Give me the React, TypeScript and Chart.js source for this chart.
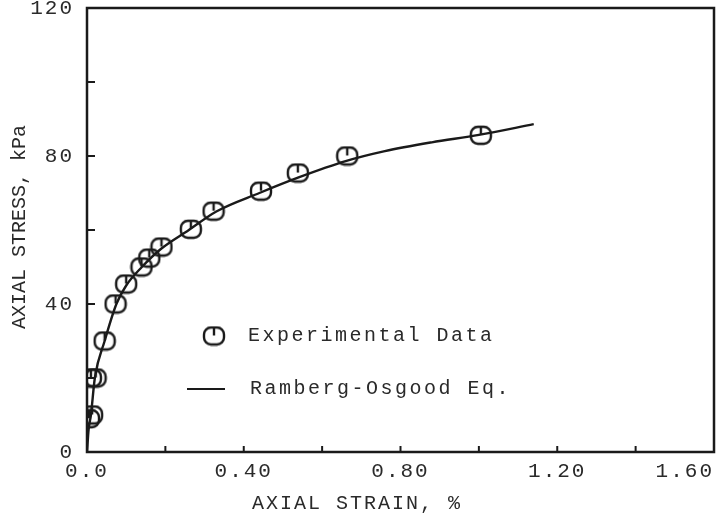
import React, { useEffect, useRef } from 'react';
import { Chart, registerables } from 'chart.js';

Chart.register(...registerables);

// Experimental data (axial strain %, axial stress kPa)
const expStrain = [0.005, 0.013, 0.01, 0.022, 0.045, 0.073, 0.1, 0.139, 0.159, 0.19, 0.265, 0.323, 0.444, 0.538, 0.664, 1.005];
const expStress = [9, 10, 20, 20, 30, 40, 45.4, 50, 52.4, 55.4, 60.2, 65.1, 70.5, 75.4, 80, 85.6];

// Ramberg-Osgood curve
const curveStrain = [0, 0.004, 0.01, 0.02, 0.045, 0.075, 0.1, 0.14, 0.19, 0.26, 0.33, 0.44, 0.54, 0.66, 0.76, 0.88, 1.0, 1.14];
const curveStress = [0, 6, 10, 20, 30, 40, 45, 50, 55, 60, 65, 70, 74.2, 78.6, 81.3, 83.7, 85.7, 88.6];

const xTickValues = [0, 0.4, 0.8, 1.2, 1.6];
const xTickLabels = ['0.0', '0.40', '0.80', '1.20', '1.60'];
const xMinorTicks = [0.2, 0.4, 0.6, 0.8, 1.0, 1.2, 1.4];
const yTickValues = [0, 40, 80, 120];
const yTickLabels = ['0', '40', '80', '120'];
const yMinorTicks = [20, 40, 60, 80, 100];

const xTitle = 'AXIAL STRAIN, %';
const yTitle = 'AXIAL STRESS, kPa';
const legendLabels = ['Experimental Data', 'Ramberg-Osgood Eq.'];

const INK = '#1a1a1a';
const TEXT = '#2a2a2a';
const FONT = "'Liberation Mono', 'DejaVu Sans Mono', monospace";

function makeMarker(): HTMLCanvasElement {
  const c = document.createElement('canvas');
  c.width = 24;
  c.height = 21;
  const g = c.getContext('2d')!;
  g.strokeStyle = INK;
  g.lineWidth = 2.4;
  g.beginPath();
  (g as any).roundRect(2, 2, 20, 17, 7);
  g.stroke();
  g.beginPath();
  g.moveTo(12, 2);
  g.lineTo(12, 10);
  g.stroke();
  return c;
}

export default function App() {
  const ref = useRef<HTMLCanvasElement>(null);

  useEffect(() => {
    const marker = makeMarker();

    const decor = {
      id: 'decor',
      beforeLayout(chart: any) {
        chart.ctx.letterSpacing = '2px';
      },
      beforeDraw(chart: any) {
        const ctx = chart.ctx;
        ctx.save();
        ctx.fillStyle = '#ffffff';
        ctx.fillRect(0, 0, chart.width, chart.height);
        ctx.restore();
        ctx.letterSpacing = '2px';
      },
      afterDraw(chart: any) {
        const { ctx, chartArea } = chart;
        const { left, right, top, bottom } = chartArea;
        const xs = chart.scales.x;
        const ys = chart.scales.y;
        ctx.save();
        ctx.strokeStyle = INK;
        ctx.lineWidth = 2.5;
        ctx.strokeRect(left, top, right - left, bottom - top);

        ctx.lineWidth = 2;
        xMinorTicks.forEach((v) => {
          const px = xs.getPixelForValue(v);
          ctx.beginPath();
          ctx.moveTo(px, bottom);
          ctx.lineTo(px, bottom - 6);
          ctx.stroke();
        });
        yMinorTicks.forEach((v) => {
          const py = ys.getPixelForValue(v);
          ctx.beginPath();
          ctx.moveTo(left, py);
          ctx.lineTo(left + 8, py);
          ctx.stroke();
        });

        // legend
        ctx.fillStyle = TEXT;
        ctx.font = `20px ${FONT}`;
        ctx.letterSpacing = '2.5px';
        ctx.textBaseline = 'middle';
        ctx.textAlign = 'left';
        const lx = left + 127;
        const ly1 = top + 328;
        const ly2 = top + 381;
        ctx.drawImage(marker, lx - marker.width / 2, ly1 - marker.height / 2);
        ctx.fillText(legendLabels[0], left + 161, ly1);
        ctx.lineWidth = 2;
        ctx.beginPath();
        ctx.moveTo(left + 100, ly2);
        ctx.lineTo(left + 138, ly2);
        ctx.stroke();
        ctx.fillText(legendLabels[1], left + 163, ly2);

        // axis titles
        ctx.textAlign = 'center';
        ctx.letterSpacing = '2px';
        ctx.fillText(xTitle, left + 270, bottom + 52);
        ctx.letterSpacing = '0px';
        ctx.save();
        ctx.translate(20, top + 219);
        ctx.rotate(-Math.PI / 2);
        ctx.fillText(yTitle, 0, 0);
        ctx.restore();
        ctx.restore();
      },
    };

    const chart = new Chart(ref.current!, {
      type: 'scatter',
      data: {
        datasets: [
          {
            label: legendLabels[1],
            data: curveStrain.map((x, i) => ({ x, y: curveStress[i] })),
            showLine: true,
            borderColor: INK,
            borderWidth: 2.4,
            pointRadius: 0,
            cubicInterpolationMode: 'monotone',
            order: 2,
          },
          {
            label: legendLabels[0],
            data: expStrain.map((x, i) => ({ x, y: expStress[i] })),
            showLine: false,
            pointStyle: marker,
            pointRadius: 10,
            borderColor: INK,
            order: 1,
          },
        ],
      },
      plugins: [decor],
      options: {
        animation: false,
        responsive: false,
        devicePixelRatio: 1,
        layout: { autoPadding: false, padding: { top: 8, right: 2, left: 0, bottom: 0 } },
        plugins: { legend: { display: false }, tooltip: { enabled: false } },
        scales: {
          x: {
            type: 'linear',
            min: 0,
            max: 1.6,
            grid: { display: false, drawTicks: false },
            border: { display: false },
            afterBuildTicks: (s: any) => {
              s.ticks = xTickValues.map((v) => ({ value: v }));
            },
            afterFit: (s: any) => {
              s.height = 77;
              s.paddingLeft = 0;
              s.paddingRight = 0;
            },
            ticks: {
              autoSkip: false,
              maxRotation: 0,
              padding: 7,
              color: TEXT,
              font: { family: FONT, size: 21 },
              callback: (v: any) => {
                const i = xTickValues.findIndex((t) => Math.abs(t - Number(v)) < 1e-6);
                if (i < 0) return '';
                // keep the last label inside the canvas, as in the original figure
                return i === xTickValues.length - 1 ? xTickLabels[i] + '    ' : xTickLabels[i];
              },
            },
          },
          y: {
            type: 'linear',
            min: 0,
            max: 120,
            grid: { display: false, drawTicks: false },
            border: { display: false },
            afterBuildTicks: (s: any) => {
              s.ticks = yTickValues.map((v) => ({ value: v }));
            },
            afterFit: (s: any) => {
              s.width = 87;
              s.paddingTop = 0;
              s.paddingBottom = 0;
            },
            ticks: {
              autoSkip: false,
              padding: 13,
              color: TEXT,
              font: { family: FONT, size: 21 },
              callback: (v: any) => {
                const i = yTickValues.findIndex((t) => Math.abs(t - Number(v)) < 1e-6);
                return i >= 0 ? yTickLabels[i] : '';
              },
            },
          },
        },
      },
    } as any);

    return () => chart.destroy();
  }, []);

  return (
    <div style={{ position: 'fixed', left: 0, top: 0, width: 716, height: 529, background: '#fff' }}>
      <canvas ref={ref} width={716} height={529} style={{ display: 'block', width: 716, height: 529 }} />
    </div>
  );
}
